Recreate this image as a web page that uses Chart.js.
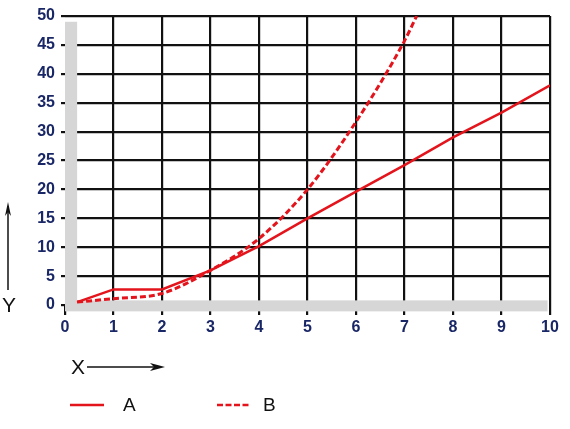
<!DOCTYPE html>
<html>
<head>
<meta charset="utf-8">
<script src="https://cdn.jsdelivr.net/npm/chart.js@4/dist/chart.umd.min.js"></script>
<style>
  html, body { margin: 0; padding: 0; background: #fff; }
  #wrap { width: 570px; height: 429px; }
</style>
</head>
<body>
<div id="wrap"><canvas id="lineCanvas" width="570" height="429"></canvas></div>
<script>
// values
let xTicks = [0, 1, 2, 3, 4, 5, 6, 7, 8, 9, 10];
let yTicks = [0, 5, 10, 15, 20, 25, 30, 35, 40, 45, 50];

let xA = [0.25, 1, 2, 3, 4, 5, 6, 7, 8, 9, 10];
let yA = [0.5, 2.7, 2.7, 6, 10.2, 15, 19.6, 24.2, 29, 33.3, 38];

let xB = [0.25, 1, 2, 3, 4, 5, 6, 7, 7.25];
let yB = [0.5, 1.1, 2, 6, 11.5, 20, 31.7, 45.7, 50];

let seriesNames = ['A', 'B'];

let red = '#e3141c';
let tickBlue = '#1a2766';

function toPoints(xs, ys) {
    let pts = [];
    for (let i = 0; i < xs.length; i++) {
        pts.push({ x: xs[i], y: ys[i] });
    }
    return pts;
}

// grey bands, arrows and the little legend under the plot
let extras = {
    id: 'extras',
    beforeDatasetsDraw(chart) {
        let ctx = chart.ctx;
        let xs = chart.scales.x, ys = chart.scales.y;
        ctx.save();
        ctx.fillStyle = '#d6d6d6';
        let l = xs.getPixelForValue(0);
        let r = xs.getPixelForValue(0.25);
        ctx.fillRect(l, ys.getPixelForValue(49), r - l, ys.getPixelForValue(0) - ys.getPixelForValue(49));
        let top = ys.getPixelForValue(0.8);
        let bot = ys.getPixelForValue(-1.1);
        ctx.fillRect(l, top, xs.getPixelForValue(9.95) - l, bot - top);
        ctx.restore();
    },
    afterDraw(chart) {
        let ctx = chart.ctx;
        ctx.save();
        ctx.fillStyle = '#111';
        ctx.strokeStyle = '#111';
        ctx.textBaseline = 'middle';
        ctx.font = '21px Arial, "Liberation Sans", sans-serif';

        // Y with arrow going up
        ctx.textAlign = 'center';
        ctx.fillText('Y', 9, 306);
        ctx.lineWidth = 1.5;
        ctx.beginPath();
        ctx.moveTo(8, 290);
        ctx.lineTo(8, 206);
        ctx.stroke();
        ctx.beginPath();
        ctx.moveTo(8, 202);
        ctx.lineTo(5, 216);
        ctx.lineTo(8, 212);
        ctx.lineTo(11, 216);
        ctx.closePath();
        ctx.fill();

        // X with arrow going right
        ctx.fillText('X', 78, 368);
        ctx.beginPath();
        ctx.moveTo(87, 367);
        ctx.lineTo(160, 367);
        ctx.stroke();
        ctx.beginPath();
        ctx.moveTo(165, 367);
        ctx.lineTo(150, 363);
        ctx.lineTo(154, 367);
        ctx.lineTo(150, 371);
        ctx.closePath();
        ctx.fill();

        // legend
        ctx.font = '19px Arial, "Liberation Sans", sans-serif';
        ctx.textAlign = 'left';
        ctx.strokeStyle = red;
        ctx.lineWidth = 2.5;
        ctx.beginPath();
        ctx.moveTo(70, 405);
        ctx.lineTo(104, 405);
        ctx.stroke();
        ctx.fillText(seriesNames[0], 123, 406);
        ctx.setLineDash([6, 2.5]);
        ctx.beginPath();
        ctx.moveTo(217, 405);
        ctx.lineTo(249, 405);
        ctx.stroke();
        ctx.setLineDash([]);
        ctx.fillText(seriesNames[1], 263, 406);
        ctx.restore();
    }
};

let lineCtx = document.getElementById('lineCanvas').getContext('2d');

let lineChart = new Chart(lineCtx, {
    type: 'line',
    data: {
        datasets: [{
            label: seriesNames[0],
            data: toPoints(xA, yA),
            borderColor: red,
            borderWidth: 2.5,
            pointRadius: 0,
            tension: 0
        }, {
            label: seriesNames[1],
            data: toPoints(xB, yB),
            borderColor: red,
            borderWidth: 3,
            borderDash: [6, 3],
            pointRadius: 0,
            cubicInterpolationMode: 'monotone'
        }]
    },
    options: {
        responsive: false,
        animation: false,
        layout: { padding: { left: 0, top: 16, right: 20, bottom: 94 } },
        plugins: {
            legend: { display: false },
            tooltip: { enabled: false }
        },
        scales: {
            x: {
                type: 'linear',
                min: 0,
                max: 10,
                afterFit: function (s) { s.height = 30; },
                afterBuildTicks: function (s) { s.ticks = xTicks.map(v => ({ value: v })); },
                border: { display: false },
                grid: {
                    color: c => c.tick && c.tick.value === 0 ? 'rgba(0,0,0,0)' : '#111',
                    tickColor: '#111',
                    lineWidth: 2.2,
                    tickLength: 10
                },
                ticks: {
                    color: tickBlue,
                    padding: 3,
                    maxRotation: 0,
                    font: { family: 'Arial, "Liberation Sans", sans-serif', size: 16, weight: 'bold' }
                }
            },
            y: {
                min: 0,
                max: 50,
                afterFit: function (s) { s.width = 65; },
                afterBuildTicks: function (s) { s.ticks = yTicks.map(v => ({ value: v })); },
                border: { display: false },
                grid: {
                    color: c => c.tick && c.tick.value === 0 ? 'rgba(0,0,0,0)' : '#111',
                    tickColor: '#111',
                    lineWidth: 2.2,
                    tickLength: 4
                },
                ticks: {
                    color: tickBlue,
                    padding: 6,
                    font: { family: 'Arial, "Liberation Sans", sans-serif', size: 16, weight: 'bold' }
                }
            }
        }
    },
    plugins: [extras]
});
</script>
</body>
</html>
